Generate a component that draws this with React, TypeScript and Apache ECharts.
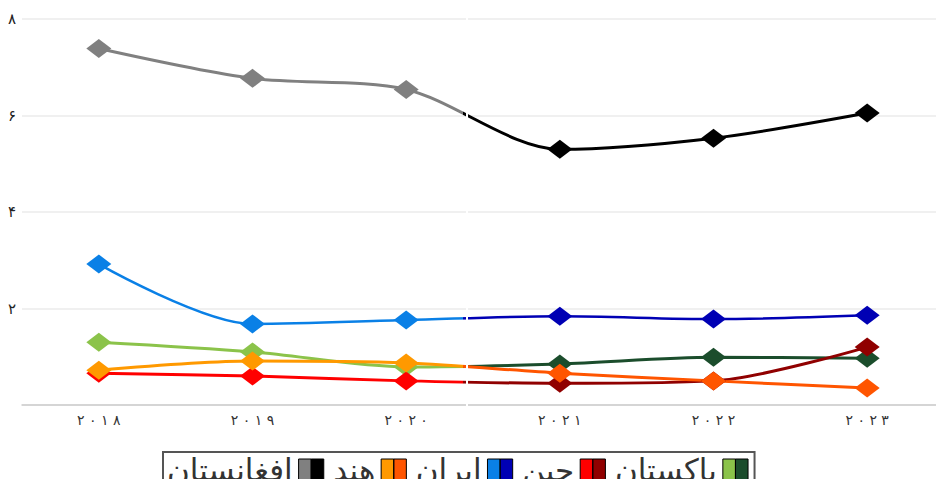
import React, { useEffect, useRef } from "react";
import * as echarts from "echarts";

const years = ["2018", "2019", "2020", "2021", "2022", "2023"];
const yTicks = [0, 2, 4, 6, 8];

const afghanistan = [7.39, 6.77, 6.54, 5.3, 5.53, 6.05];
const india = [0.72, 0.91, 0.87, 0.66, 0.5, 0.35];
const iran = [2.92, 1.68, 1.76, 1.84, 1.78, 1.86];
const china = [0.66, 0.6, 0.5, 0.45, 0.5, 1.2];
const pakistan = [1.3, 1.1, 0.79, 0.85, 0.99, 0.97];

const names = ["افغانستان", "هند", "ایران", "چین", "پاکستان"];
const lightColors = ["#808080", "#ff9900", "#0a80e6", "#ff0000", "#8bc34a"];
const darkColors = ["#000000", "#ff5500", "#0000b4", "#900000", "#1b4d2c"];
const seriesData = [afghanistan, india, iran, china, pakistan];
const drawOrder = [4, 3, 2, 1, 0];
const splitIndex = 2.37;

const fa = (s: string | number) =>
  String(s).replace(/\d/g, (d) => "۰۱۲۳۴۵۶۷۸۹"[Number(d)]);

const split = (light: string, dark: string, at: number) => ({
  type: "linear",
  x: 0,
  y: 0,
  x2: 1,
  y2: 0,
  colorStops: [
    { offset: 0, color: light },
    { offset: at, color: light },
    { offset: at, color: dark },
    { offset: 1, color: dark },
  ],
});

export default function App() {
  const ref = useRef<HTMLDivElement>(null);
  useEffect(() => {
    if (!ref.current) return;
    const chart = echarts.init(ref.current, undefined, { renderer: "svg" });
    const lastIdx = years.length - 1;
    const series = drawOrder.map((i) => ({
      name: names[i],
      type: "line",
      data: seriesData[i].map((v, j) => ({
        value: v,
        itemStyle: { color: j < splitIndex ? lightColors[i] : darkColors[i] },
      })),
      smooth: 0.3,
      symbol: "diamond",
      symbolSize: [25, 19],
      itemStyle: { color: darkColors[i] },
      lineStyle: {
        width: i === 2 ? 2.5 : 3,
        color: split(lightColors[i], darkColors[i], splitIndex / lastIdx),
      },
      z: 2,
    }));
    const legendData = names.map((n, i) => ({
      name: n,
      itemStyle: {
        color: split(lightColors[i], darkColors[i], 0.5),
        borderColor: "#000",
        borderWidth: 1,
      },
    }));
    chart.setOption({
      animation: false,
      grid: { left: 22, top: 19, width: 933, height: 386, containLabel: false },
      xAxis: {
        type: "category",
        data: years,
        boundaryGap: true,
        axisLine: { lineStyle: { color: "#cccccc", width: 1.5 } },
        axisTick: { show: false },
        axisLabel: {
          formatter: (v: string) => fa(v).split("").join(" "),
          fontSize: 14,
          color: "#333",
          margin: 8,
          fontFamily: "DejaVu Sans",
        },
      },
      yAxis: {
        type: "value",
        min: yTicks[0],
        max: yTicks[yTicks.length - 1],
        interval: 2,
        axisLine: { show: false },
        axisTick: { show: false },
        splitLine: { lineStyle: { color: "#ebebeb", width: 1.5 } },
        axisLabel: {
          formatter: (v: number) => (v === 0 ? "" : fa(v)),
          fontSize: 15,
          color: "#222",
          margin: 6,
          fontFamily: "DejaVu Sans",
        },
      },
      legend: {
        data: legendData,
        left: 163,
        top: 452,
        align: "right",
        orient: "horizontal",
        icon: "path://M0,0H12V20H0Z M12,0H24V20H12Z",
        itemWidth: 27,
        itemHeight: 21,
        itemGap: 9,
        padding: [2, 6, 8, 4],
        borderColor: "#555",
        borderWidth: 2,
        textStyle: {
          fontSize: 31,
          color: "#333",
          fontFamily: "DejaVu Sans",
        },
      },
      graphic: [
        {
          type: "rect",
          z: 100,
          shape: { x: 466, y: 10, width: 2, height: 400 },
          style: { fill: "#ffffff" },
        },
      ],
      series,
    });
    return () => chart.dispose();
  }, []);
  return <div ref={ref} style={{ width: 944, height: 487, margin: -8 }} />;
}
